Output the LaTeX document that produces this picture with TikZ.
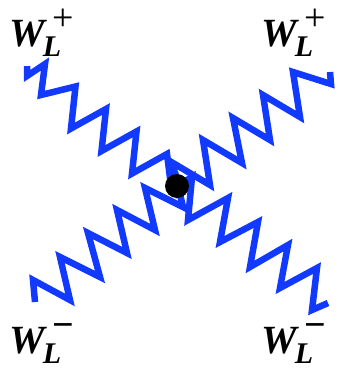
\documentclass[tikz,border=0pt]{standalone}
\usepackage{fontspec}
\setmainfont{Liberation Serif}
\definecolor{zzblue}{RGB}{18,58,255}
\newcommand{\wlab}[1]{{\fontsize{40}{46}\selectfont\bfseries\itshape W}\kern-2pt\raisebox{-10pt}{\fontsize{30}{32}\selectfont\bfseries\itshape L}\kern-9pt\raisebox{16pt}{\fontsize{38}{40}\selectfont #1}}
\begin{document}
\begin{tikzpicture}[x=1pt,y=-1pt,
  zz/.style={draw=zzblue,line width=6.5pt,line join=miter,miter limit=4},
  lab/.style={inner sep=0pt,anchor=base west},
  vtx/.style={circle,fill=black,inner sep=0pt,minimum size=24pt}]
\useasboundingbox (0,0) rectangle (339,373);
\coordinate (c) at (177,186);
% top-left
\draw[zz] (27,66) -- (27,76) -- (45,64) -- (41,95) -- (75.5,86.5) -- (71,128.5) -- (106,109) -- (101.5,151) -- (136.5,131.5) -- (132,173.5) -- (167,154) -- (171,186);
% top-right
\draw[zz] (330,72) -- (331,84) -- (293,72) -- (300,117) -- (263,95) -- (270,140) -- (233,118) -- (242,163) -- (203,140) -- (210,185) -- (173,163) -- (179,198);
% bottom-left
\draw[zz] (35,302) -- (33,280) -- (70,300) -- (60,257) -- (100,277) -- (88,233) -- (127,253) -- (117,210) -- (155,230) -- (145,188) -- (183,207) -- (175,172);
% bottom-right
\draw[zz] (328,303) -- (312,310) -- (317,268) -- (280,288) -- (288,245) -- (250,267) -- (258,222) -- (220,242) -- (228,198) -- (188,220) -- (192,177) -- (c);
\node[vtx] (v) at (c) {};
\node[lab] (tl) at (9,46) {\wlab{+}};
\node[lab] (tr) at (261,46) {\wlab{+}};
\node[lab] (bl) at (9,353) {\wlab{\bfseries −}};
\node[lab] (br) at (261,353) {\wlab{\bfseries −}};
\end{tikzpicture}
\end{document}
